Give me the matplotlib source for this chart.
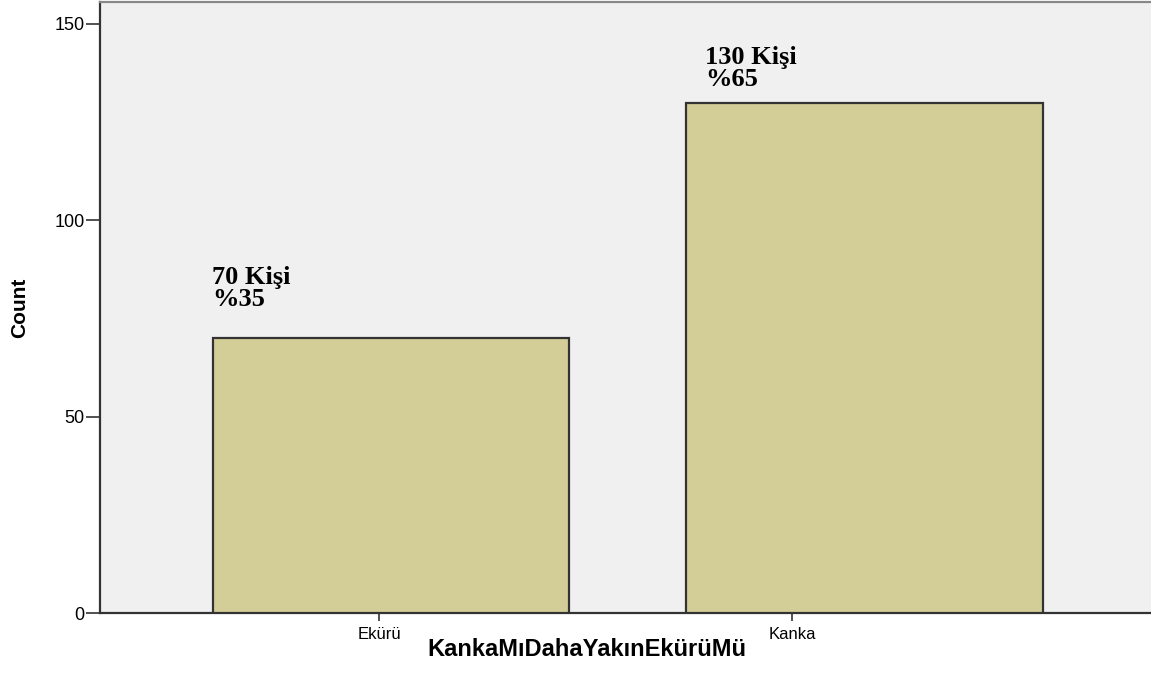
# %% load library
import numpy as np
import matplotlib.pyplot as plt
import matplotlib.ticker as ticker

# %% data
categories = ["Ekürü", "Kanka"]
counts = [70, 130]
percents = [35, 65]
x_title = "KankaMıDahaYakınEkürüMü"
y_title = "Count"
y_ticks = [0, 50, 100, 150]

# %% style settings
W, H, DPI = 1151, 678, 100
BG = "#F0F0F0"
BAR_COLOR = "#D3CE97"
EDGE = "#333333"
BAR_WIDTH = 0.753
XLIM = (-0.615, 1.605)
YLIM = (0, 155.6)
TICK_SHIFT = [-0.025, -0.153]     # SPSS puts the ticks a bit off the bar centre
LABEL_DX = [-0.378, -0.337]       # label left edge relative to bar centre
LABEL_DY = [7.0, 3.0]             # gap above bar (data units)

plt.rcParams["font.family"] = ["Liberation Sans", "DejaVu Sans"]

fig = plt.figure(figsize=(W / DPI, H / DPI), dpi=DPI)
ax = fig.add_axes([100 / W, 1 - 613 / H, 1 - 100 / W, (613 - 2) / H])
ax.set_facecolor(BG)

x = np.arange(len(categories))
ax.bar(x, counts, width=BAR_WIDTH, color=BAR_COLOR, edgecolor=EDGE,
       linewidth=1.6, zorder=3)

# value labels (count + percentage), serif bold like the SPSS annotation
for xi, c, p, dx, dy in zip(x, counts, percents, LABEL_DX, LABEL_DY):
    ax.text(xi + dx, c + dy, f"{c} Kişi\n%{p}", ha="left", va="bottom",
            multialignment="left",
            family=["Liberation Serif", "DejaVu Serif"], fontweight="bold",
            fontsize=19, linespacing=0.95, zorder=4)

ax.set_xlim(XLIM)
ax.set_ylim(YLIM)

ax.set_xticks(x + np.array(TICK_SHIFT))
ax.set_xticklabels(categories, fontsize=12)
ax.set_yticks(y_ticks)
ax.set_yticklabels([str(v) for v in y_ticks], fontsize=13)
ax.xaxis.set_minor_locator(ticker.NullLocator())
ax.yaxis.set_minor_locator(ticker.NullLocator())
ax.tick_params(axis="x", length=6, width=1.2, color="#333333", pad=4)
ax.tick_params(axis="y", length=10, width=1.2, color="#333333", pad=1)

ax.set_xlabel(x_title, fontsize=17, fontweight="bold")
ax.xaxis.set_label_coords((587 - 100) / (W - 100), -(650 - 613) / 611)
ax.xaxis.label.set_va("center")
ax.set_ylabel(y_title, fontsize=15, fontweight="bold")
ax.yaxis.set_label_coords(-(100 - 20) / (W - 100), 0.5)
ax.yaxis.label.set_va("center")

for side in ["left", "bottom"]:
    ax.spines[side].set_color("#333333")
    ax.spines[side].set_linewidth(1.6)
ax.spines["top"].set_color("#888888")
ax.spines["top"].set_linewidth(1.6)
ax.spines["right"].set_visible(False)

fig.savefig("out.png", dpi=DPI, facecolor="white")
